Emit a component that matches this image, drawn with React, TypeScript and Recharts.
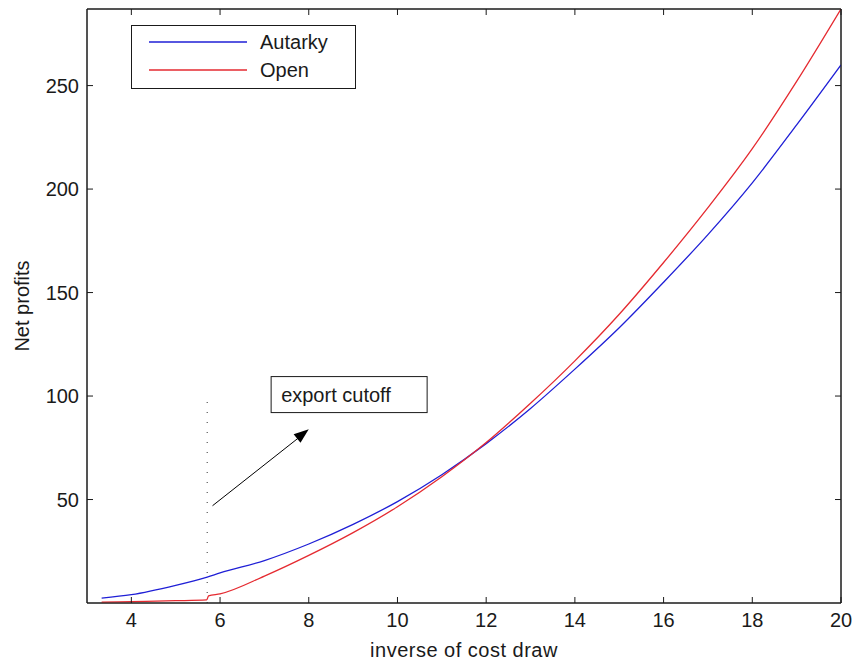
import React from "react";
import { LineChart, Line, XAxis, YAxis, Legend, ReferenceLine, ReferenceDot, ReferenceArea } from "recharts";

// values
const autarkyX = [3.33, 4, 5, 5.71, 6, 7, 8, 9, 10, 11, 12, 13, 14, 15, 16, 17, 18, 19, 20];
const autarkyY = [2.4, 4, 8.5, 12.5, 14.5, 20.5, 28.5, 38, 49, 62, 77, 94, 113, 133, 155, 178, 203, 231, 260];
const openX = [3.33, 4, 5, 5.7, 5.74, 6, 7, 8, 9, 10, 11, 12, 13, 14, 15, 16, 17, 18, 19, 20];
const openY = [0.4, 0.7, 1.1, 1.5, 3.4, 4.4, 13, 23, 34, 46.5, 61, 77.5, 96.5, 117, 139.5, 164.5, 191, 219.5, 252, 287];
const xTicks = [4, 6, 8, 10, 12, 14, 16, 18, 20];
const yTicks = [50, 100, 150, 200, 250];
const cutoffX = 5.71;

const autarky = autarkyX.map((x, i) => ({ x, y: autarkyY[i] }));
const open = openX.map((x, i) => ({ x, y: openY[i] }));

const FONT = "'Liberation Sans', Arial, sans-serif";
const INK = "#1a1a1a";
const FS = 20;
const T = 6;

const BottomTick = ({ x, y, payload }: any) => (
  <g>
    <line x1={x} y1={y} x2={x} y2={y - T} stroke={INK} />
    <text x={x} y={y + 24} textAnchor="middle" fontSize={FS} fontFamily={FONT} fill={INK}>
      {payload.value}
    </text>
  </g>
);
const LeftTick = ({ x, y, payload }: any) => (
  <g>
    <line x1={x} y1={y} x2={x + T} y2={y} stroke={INK} />
    <text x={x - 8} y={y + 7} textAnchor="end" fontSize={FS} fontFamily={FONT} fill={INK}>
      {payload.value}
    </text>
  </g>
);
const TopTick = ({ x, y }: any) => <line x1={x} y1={y} x2={x} y2={y + T} stroke={INK} />;
const RightTick = ({ x, y }: any) => <line x1={x} y1={y} x2={x - T} y2={y} stroke={INK} />;

const LegendBox = ({ payload }: any) => {
  const items = (payload || []).filter((p: any) => p.type !== "none" && p.value !== "y");
  return (
    <svg width={226} height={66} style={{ display: "block" }}>
      <rect x={0.5} y={0.5} width={224} height={63} fill="#fff" stroke={INK} />
      {items.map((p: any, i: number) => (
        <g key={p.value}>
          <line x1={18} x2={116} y1={17 + i * 28} y2={17 + i * 28} stroke={p.color} strokeWidth={1.3} />
          <text x={129} y={24 + i * 28} fontSize={FS} fontFamily={FONT} fill={INK}>
            {p.value}
          </text>
        </g>
      ))}
    </svg>
  );
};

const ArrowHead = ({ cx, cy }: any) => (
  <path d="M0,0 L-15,-5.5 L-15,5.5 Z" fill="#000" transform={`translate(${cx},${cy}) rotate(-38.7)`} />
);

const CutoffBox = ({ cx, cy }: any) => (
  <g>
    <rect x={cx - 78} y={cy - 18} width={156} height={36} fill="#fff" stroke={INK} />
    <text x={cx - 68} y={cy + 7} fontSize={FS} fontFamily={FONT} fill={INK}>
      export cutoff
    </text>
  </g>
);

export default function App() {
  return (
    <div style={{ position: "absolute", left: 0, top: 0, background: "#fff" }}>
      <LineChart width={854} height={666} margin={{ top: 8, right: 12, bottom: 33, left: 27 }}>
        <XAxis
          dataKey="x"
          type="number"
          domain={[3, 20]}
          ticks={xTicks}
          height={30}
          tickSize={0}
          tickMargin={0}
          tick={BottomTick}
          stroke={INK}
          allowDataOverflow
          label={{
            value: "inverse of cost draw",
            position: "bottom",
            offset: 10,
            fontSize: FS,
            fontFamily: FONT,
            fill: INK,
            style: { letterSpacing: "0.5px" },
          }}
        />
        <XAxis
          xAxisId="top"
          dataKey="x"
          orientation="top"
          type="number"
          domain={[3, 20]}
          ticks={xTicks}
          height={1}
          tickSize={0}
          tickMargin={0}
          tick={TopTick}
          stroke={INK}
          allowDataOverflow
        />
        <YAxis
          type="number"
          domain={[0, 287]}
          ticks={yTicks}
          width={60}
          tickSize={0}
          tickMargin={0}
          tick={LeftTick}
          stroke={INK}
          allowDataOverflow
          label={{
            value: "Net profits",
            angle: -90,
            position: "left",
            offset: 5,
            fontSize: FS,
            fontFamily: FONT,
            fill: INK,
            style: { textAnchor: "middle" },
          }}
        />
        <YAxis
          yAxisId="right"
          orientation="right"
          type="number"
          domain={[0, 287]}
          ticks={yTicks}
          width={1}
          tickSize={0}
          tickMargin={0}
          tick={RightTick}
          stroke={INK}
          allowDataOverflow
        />
        <ReferenceArea x1={3} x2={20} y1={0} y2={287} fill="none" stroke={INK} fillOpacity={0} />
        <ReferenceLine
          segment={[{ x: cutoffX, y: 0 }, { x: cutoffX, y: 100 }]}
          stroke="#333"
          strokeDasharray="1 9"
        />
        <ReferenceLine
          segment={[{ x: 5.83, y: 47 }, { x: 7.9, y: 82 }]}
          stroke="#000"
          strokeWidth={1}
        />
        <ReferenceDot x={8.0} y={84} r={1} shape={ArrowHead} />
        <ReferenceDot x={8.91} y={100.7} r={1} shape={CutoffBox} />
        {/* invisible series so the top and right frame axes get drawn */}
        <Line
          data={autarky}
          dataKey="y"
          xAxisId="top"
          yAxisId="right"
          stroke="none"
          dot={false}
          activeDot={false}
          legendType="none"
          isAnimationActive={false}
        />
        <Line
          data={autarky}
          dataKey="y"
          name="Autarky"
          type="monotone"
          stroke="#1f1fd6"
          strokeWidth={1.3}
          dot={false}
          isAnimationActive={false}
        />
        <Line
          data={open}
          dataKey="y"
          name="Open"
          type="monotone"
          stroke="#e52a30"
          strokeWidth={1.3}
          dot={false}
          isAnimationActive={false}
        />
        <Legend
          layout="horizontal"
          verticalAlign="middle"
          align="center"
          content={LegendBox}
          wrapperStyle={{ left: 131, top: 25, width: 226, height: 66 }}
        />
      </LineChart>
    </div>
  );
}
